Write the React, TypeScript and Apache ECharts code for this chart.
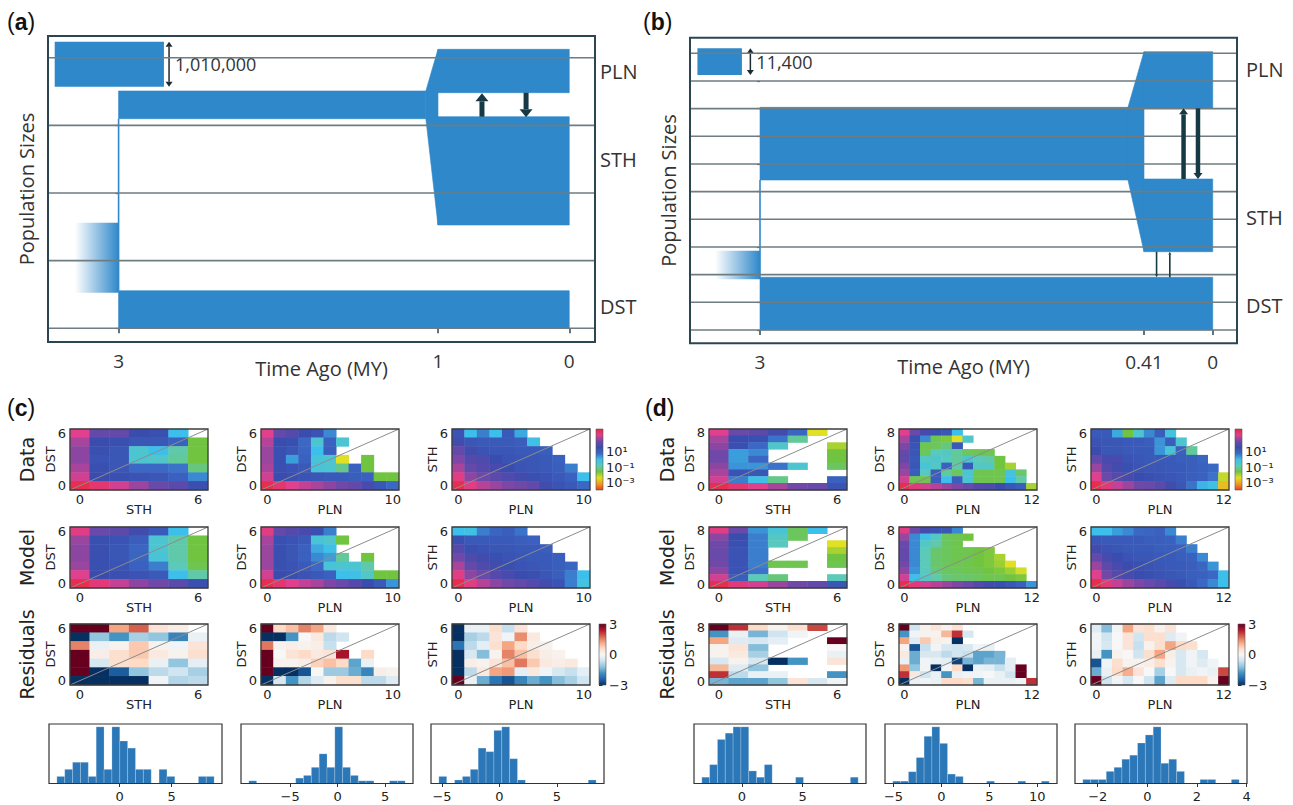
import React, { useEffect, useRef } from 'react';
import * as echarts from 'echarts';

const n = null;

// ================= Panel (a) =================
const timeBreaksA = [[3, 0], [1, 1], [0, 1.411]]; // time (MY) -> axis position (broken time axis)
const timeTicksA = [3, 1, 0];
const timeTickLabelsA = ['3', '1', '0'];
const sizeGridA = [0, 1, 2, 3, 4];
// [tStart, tEnd, bottomStart, topStart, bottomEnd, topEnd]
const blocksA = [
  [3, 1.076, 3.098, 3.508, 3.098, 3.508],
  [1.076, 1, 3.098, 3.508, 1.527, 4.124],
  [1, 0, 3.483, 4.124, 3.483, 4.124],
  [1, 0, 1.527, 3.128, 1.527, 3.128],
  [3, 0, 0, 0.556, 0, 0.556],
];
const founderA = [[3, 0.556, 3.098]];
const fadeA = [[3.273, 3, 0.526, 1.561]];
const migrationA = [[0.665, 3.128, 3.474], [0.329, 3.483, 3.12]];
const scaleA = [[3.4, 2.716, 3.571, 4.237, 2.684]];
const scaleLabelA = '1,010,000';
const popLabelsA: any[] = [['PLN', 3.8], ['STH', 2.49], ['DST', 0.315]];

// ================= Panel (b) =================
const timeBreaksB = [[3, 0], [0.41, 1], [0, 1.179]];
const timeTicksB = [3, 0.41, 0];
const timeTickLabelsB = ['3', '0.41', '0'];
const sizeGridB = [0, 1, 2, 3, 4, 5, 6, 7, 8, 9, 10];
const blocksB = [
  [3, 0.518, 5.421, 8.048, 5.421, 8.048],
  [0.518, 0.41, 5.421, 8.048, 2.83, 10.058],
  [0.41, 0, 8.012, 10.058, 8.012, 10.058],
  [0.41, 0, 2.83, 5.457, 2.83, 5.457],
  [3, 0, 0, 1.905, 0, 1.905],
];
const founderB = [[3, 1.905, 5.421]];
const fadeB = [[3.303, 3, 1.832, 2.866]];
const migrationB = [[0.174, 5.457, 8.012], [0.088, 8.012, 5.457]];
const minorMigrationB = [[0.335, 2.83, 1.905], [0.256, 1.905, 2.83]];
const scaleB = [[3.422, 3.122, 9.216, 10.18, 3.065]];
const scaleLabelB = '11,400';
const popLabelsB: any[] = [['PLN', 9.4], ['STH', 4.05], ['DST', 0.9]];

// ================= Panel (c) spectra (log10), rows listed top (max) -> bottom (0) =================
const cData1 = [
  [3.2, 2.2, 2.2, 1.6, 1.5, 0.0, n],
  [2.8, 1.6, 1.5, 1.3, 1.3, 1.0, -1.6],
  [2.6, 1.5, 1.3, -0.4, 0.0, -0.9, -1.6],
  [2.6, 1.4, 1.3, -0.4, -0.5, -1.0, -1.6],
  [2.8, 1.5, 1.3, 0.8, 0.8, 0.7, -1.2],
  [3.1, 1.6, 1.5, 1.4, 1.3, 1.0, 0.5],
  [3.8, 3.5, 3.1, 2.7, 2.3, 2.1, 1.5],
];
const cModel1 = [
  [3.3, 2.3, 2.1, 1.7, 1.2, 0.0, n],
  [2.7, 1.5, 1.4, 1.1, -0.4, -0.9, -1.6],
  [2.6, 1.5, 1.3, 0.9, -0.4, -0.9, -1.6],
  [2.6, 1.5, 1.3, 0.9, -0.3, -0.9, -1.6],
  [2.7, 1.5, 1.4, 1.0, 0.6, -0.8, -1.5],
  [3.2, 1.6, 1.5, 1.4, 1.2, 0.0, -0.9],
  [3.8, 3.4, 3.0, 2.6, 2.4, 2.1, 1.5],
];
const cRes1 = [
  [3, 3, 1.2, 1.8, 0.4, 0.2, n],
  [-3, -1.2, -1.8, -1.0, -1.2, -2.0, -0.2],
  [1.5, -0.2, 0.1, 0.8, 0.1, -0.1, 0.4],
  [3, 0.2, 0.5, 0.8, 0.3, 0.1, 0.5],
  [3, -0.5, 0.5, 0.6, -0.2, -1.2, -0.3],
  [3, -3, -2.5, -1.2, -0.8, -0.6, -1.0],
  [-3, -3, -3, -3, -0.1, -0.9, -0.8],
];
const cData2 = [
  [3.2, 2.2, 2.0, 1.6, 1.4, 0.5, n, n, n, n, n],
  [2.9, 1.6, 1.5, 0.8, -0.4, 1.0, -0.4, n, n, n, n],
  [2.7, 1.5, 1.3, 0.9, 0.0, 1.1, n, n, n, n, n],
  [2.7, 1.5, 0.3, 1.0, -0.3, -0.4, -2.4, n, -1.6, n, n],
  [2.8, 1.5, 1.4, 1.2, -0.3, -0.4, -1.1, 1.0, -1.6, n, n],
  [3.1, 1.6, 1.5, 1.4, 1.3, 1.2, 1.2, 1.1, 1.0, -1.6, -1.6],
  [3.8, 3.5, 3.2, 3.0, 2.8, 2.6, 2.4, 2.2, 1.8, 1.3, 0.8],
];
const cModel2 = [
  [3.3, 2.2, 2.0, 1.8, 1.5, 0.6, n, n, n, n, n],
  [2.8, 1.5, 1.4, 1.2, -0.3, -0.5, -1.6, n, n, n, n],
  [2.7, 1.5, 1.3, 1.0, 0.2, -0.1, n, n, n, n, n],
  [2.7, 1.5, 1.3, 1.0, 0.5, 0.3, -1.0, n, -1.6, n, n],
  [2.7, 1.5, 1.4, 1.2, 0.8, -0.3, -0.4, -0.4, -0.9, n, n],
  [3.1, 1.6, 1.5, 1.4, 1.2, 1.0, 0.0, -0.1, -0.6, -1.6, -1.6],
  [3.8, 3.5, 3.2, 3.0, 2.8, 2.5, 2.3, 2.0, 1.6, 1.2, 0.4],
];
const cRes2 = [
  [3, 0.6, 0.9, 1.5, 1.2, 0.3, n, n, n, n, n],
  [-3, -3, -1.8, 0.0, 0.3, -0.8, -0.6, n, n, n, n],
  [1.6, 0.1, 0.2, 0.1, 0.2, -0.7, n, n, n, n, n],
  [3, 0.0, 0.4, 0.6, 0.3, 0.4, 2.5, n, 0.6, n, n],
  [3, 0.1, 0.1, 0.2, 0.7, 0.9, 0.6, -1.6, -0.2, n, n],
  [3, -3, -3, -2.6, 0.0, -1.1, -1.1, -1.5, -2.0, 0.2, 0.1],
  [-3, -0.5, -1.8, -0.9, -0.4, 0.1, 0.5, 0.5, -0.8, -0.8, -0.4],
];
const cData3 = [
  [1.4, 0.0, 0.6, 0.0, 1.2, 0.2, n, n, n, n, n],
  [1.7, 1.3, 1.2, 1.2, 1.2, 1.1, -0.1, n, n, n, n],
  [2.2, 1.7, 1.4, 1.3, 1.3, 1.2, 1.2, 1.1, n, n, n],
  [2.5, 2.0, 1.9, 1.6, 1.4, 1.3, 1.3, 1.2, 1.0, n, n],
  [2.8, 2.2, 2.0, 1.8, 1.6, 1.4, 1.3, 1.2, 1.1, 0.6, n],
  [3.3, 2.6, 2.3, 2.1, 1.9, 1.7, 1.5, 1.4, 1.2, 1.0, 0.0],
  [3.8, 3.3, 2.9, 2.7, 2.5, 2.4, 2.2, 1.7, 1.4, 1.2, 0.8],
];
const cModel3 = [
  [0.0, -0.1, 0.6, 0.9, 1.1, 0.7, n, n, n, n, n],
  [1.5, 1.2, 1.2, 1.2, 1.2, 1.1, 1.0, n, n, n, n],
  [2.0, 1.5, 1.4, 1.3, 1.3, 1.2, 1.2, 1.1, n, n, n],
  [2.4, 1.9, 1.7, 1.5, 1.4, 1.3, 1.2, 1.2, 1.1, n, n],
  [2.8, 2.2, 1.9, 1.7, 1.5, 1.4, 1.3, 1.2, 1.1, 0.9, n],
  [3.3, 2.6, 2.3, 2.0, 1.8, 1.6, 1.5, 1.3, 1.1, 0.6, 0.0],
  [3.8, 3.3, 2.9, 2.6, 2.4, 2.2, 2.0, 1.7, 1.4, 0.6, -0.2],
];
const cRes3 = [
  [-3, -0.2, -0.2, 0.5, -0.7, 0.4, n, n, n, n, n],
  [-3, -1.0, -0.8, 0.4, -0.1, 1.4, 0.3, n, n, n, n],
  [-2.2, -0.8, -0.3, 0.5, 1.2, 0.6, 0.2, 0.1, n, n, n],
  [-3, -0.5, -1.3, 0.1, 1.5, 0.9, 0.5, 0.2, 0.1, n, n],
  [-3, 0.2, 0.1, 0.4, 0.9, 1.6, 0.8, 0.3, 0.2, 0.3, n],
  [-3, -0.8, 0.3, 1.2, 1.3, -0.3, 0.3, -0.1, -0.5, -0.7, -0.3],
  [3, -0.2, -1.5, -2.2, -2.6, -2.0, -1.5, -1.8, -1.3, -1.0, -0.6],
];

// ================= Panel (d) =================
const dData1 = [
  [3.2, 2.3, 2.1, 1.7, 0.9, -2.4, n],
  [2.8, 1.6, 1.5, 0.7, -1.0, n, n],
  [2.6, 1.5, 0.8, -0.5, n, n, -2.0],
  [2.4, 0.3, 0.5, n, n, n, -1.6],
  [2.4, 0.3, 0.9, n, n, n, -1.6],
  [2.6, 0.4, 0.4, 0.7, -0.4, n, -1.4],
  [2.8, 1.4, 1.3, n, n, n, n],
  [3.1, 0.6, -0.1, -1.1, n, n, 1.0],
  [3.8, 3.5, 3.2, 2.8, 2.4, 2.3, 1.4],
];
const dModel1 = [
  [3.3, 2.3, 0.4, -0.3, -1.4, 0.0, n],
  [2.6, 1.6, 0.6, -0.6, -1.4, n, n],
  [2.4, 1.5, 0.6, -0.7, n, n, -2.4],
  [2.3, 1.4, 0.6, n, n, n, -2.0],
  [2.3, 1.4, 0.6, n, n, n, -1.6],
  [2.4, 1.4, 0.6, -1.5, -1.5, n, -1.5],
  [2.6, 1.4, 0.7, n, n, n, n],
  [3.1, 1.1, -0.8, -1.2, n, n, -0.8],
  [3.8, 3.4, 3.1, 2.7, 2.4, 2.2, 1.3],
];
const dRes1 = [
  [3, 2.2, 0.6, 0.1, 0.5, 2.0, n],
  [-1.8, -0.2, -1.4, -0.6, -0.1, n, n],
  [1.2, -0.4, -0.5, -0.3, n, n, 3],
  [0.1, 0.4, -1.3, n, n, n, 0.0],
  [0.1, 0.3, -1.0, n, n, n, -0.2],
  [-0.5, 0.1, -0.5, -3, -1.8, n, 0.4],
  [1.0, -0.4, -1.2, n, n, n, n],
  [2.2, -0.8, -0.2, -0.2, n, n, -1.8],
  [-1.4, -1.6, -1.6, -1.2, 0.4, -0.5, -0.1],
];
const dData2 = [
  [3.2, 2.3, 1.8, 1.5, 1.3, 0.0, n, n, n, n, n, n, n],
  [2.8, 1.5, 0.5, -1.5, -1.7, -2.4, -0.5, n, n, n, n, n, n],
  [2.5, 1.4, -1.5, -1.4, -1.2, 1.2, n, n, n, n, n, n, n],
  [2.2, 1.3, -1.4, -0.7, -0.6, -1.0, -1.4, -1.5, -1.5, n, n, n, n],
  [2.2, 1.2, -0.6, -0.5, -0.7, -1.0, -0.4, -0.8, -0.9, -1.6, n, n, n],
  [2.5, 1.3, -0.3, -0.6, 1.0, -0.9, 1.2, -0.6, -0.6, -1.6, -2.0, n, n],
  [2.7, 1.1, -0.7, 1.1, -1.0, -1.4, -0.4, -1.5, -1.5, -1.5, -0.2, -1.3, n],
  [3.1, -1.5, -1.5, 1.1, 0.0, 1.1, -0.4, -1.5, -1.5, -1.5, 0.0, -0.9, n],
  [3.8, 3.4, 3.1, 2.9, 2.7, 2.5, 2.3, 2.0, 1.9, 1.6, 1.3, 1.1, -2.0],
];
const dModel2 = [
  [3.3, 2.3, 1.8, 1.4, 1.3, 0.5, n, n, n, n, n, n, n],
  [2.7, 0.5, -0.1, -0.6, -1.4, -1.5, -1.6, n, n, n, n, n, n],
  [2.3, 0.5, -0.6, -0.9, -1.4, -1.5, n, n, n, n, n, n, n],
  [2.2, 0.5, -0.8, -1.3, -1.4, -1.5, -1.5, -1.6, -1.7, n, n, n, n],
  [2.2, 0.5, -0.8, -1.3, -1.4, -1.5, -1.5, -1.6, -1.7, -2.0, n, n, n],
  [2.4, 0.5, -0.8, -1.3, -1.4, -1.5, -1.5, -1.6, -1.7, -1.9, -2.4, n, n],
  [2.6, 0.4, -0.7, -1.2, -1.4, -1.4, -1.5, -1.5, -1.6, -1.7, -1.9, -2.3, n],
  [3.1, 0.0, -0.6, -0.9, -1.2, -1.3, -1.3, -1.4, -1.5, -1.5, -1.6, -1.7, n],
  [3.8, 3.4, 3.1, 2.9, 2.7, 2.5, 2.3, 2.0, 1.7, 1.5, 1.3, 1.0, 0.4],
];
const dRes2 = [
  [3, -0.6, 0.1, 0.4, 0.1, 0.4, n, n, n, n, n, n, n],
  [-1.8, -0.1, 0.1, 0.1, 1.0, 2.2, -0.5, n, n, n, n, n, n],
  [1.2, -0.4, 0.8, 0.2, 0.1, -3, n, n, n, n, n, n, n],
  [0.1, -2.6, -0.7, -0.1, -0.5, -0.6, -0.5, -0.1, -0.2, n, n, n, n],
  [0.3, -1.5, -0.5, -0.5, -0.8, -0.6, -0.7, -1.6, -1.6, -1.4, n, n, n],
  [-0.2, -1.5, -0.1, -0.2, -0.3, -2.8, -1.4, -1.6, -1.4, -1.4, -0.3, n, n],
  [1.3, -1.2, -0.1, -3, -0.1, 0.6, -3, -0.2, -0.3, -0.7, -0.3, 3, n],
  [2.2, 0.3, -0.6, -0.2, -1.8, -0.2, -0.1, -0.1, 0.0, -0.2, -0.6, 3, n],
  [-3, -0.2, -0.1, -0.2, 0.6, 0.6, 0.5, -1.4, -0.2, -0.2, -0.2, -0.1, 2.2],
];
const dData3 = [
  [1.2, 1.2, 0.2, -1.6, -0.4, 0.5, 1.1, -0.2, n, n, n, n, n],
  [1.4, 1.3, 1.3, 1.2, 1.2, 1.1, 0.4, 1.1, -0.4, n, n, n, n],
  [1.6, 1.3, 1.3, 1.2, 1.2, 1.2, 0.4, -0.3, 1.0, -1.0, n, n, n],
  [2.2, 1.8, 1.8, 1.4, 1.3, 1.2, 1.2, 1.2, 1.1, 1.1, 0.9, n, n],
  [2.7, 2.0, 1.7, 1.5, 1.4, 1.3, 1.3, 1.2, 1.2, 1.1, 1.0, 0.8, n],
  [3.2, 2.3, 2.0, 1.8, 1.6, 1.5, 1.4, 1.3, 1.2, 1.1, 1.0, 0.7, -2.2],
  [3.8, 3.4, 3.0, 2.7, 2.4, 2.3, 2.1, 1.7, 1.3, 0.7, 0.1, -0.1, -2.8],
];
const dModel3 = [
  [0.0, 0.0, 0.3, 0.5, 0.8, 0.9, 1.0, 0.5, n, n, n, n, n],
  [1.3, 1.2, 1.2, 1.2, 1.2, 1.1, 1.1, 1.0, 0.6, n, n, n, n],
  [1.7, 1.4, 1.3, 1.2, 1.2, 1.2, 1.1, 1.1, 1.0, 0.6, n, n, n],
  [2.2, 1.8, 1.6, 1.4, 1.3, 1.3, 1.2, 1.2, 1.1, 1.0, 0.5, n, n],
  [2.7, 2.1, 1.8, 1.6, 1.5, 1.4, 1.3, 1.2, 1.2, 1.1, 0.9, 0.4, n],
  [3.2, 2.4, 2.0, 1.8, 1.6, 1.5, 1.4, 1.3, 1.2, 1.1, 1.0, 0.8, 0.0],
  [3.8, 3.4, 3.0, 2.7, 2.5, 2.3, 2.1, 1.8, 1.5, 1.2, 0.8, 0.5, 0.0],
];
const dRes3 = [
  [-0.4, -1.3, -0.1, 1.2, 0.4, 0.5, 0.1, 0.4, n, n, n, n, n],
  [-0.1, -0.6, 0.0, 0.4, -0.6, 0.5, 0.5, -0.4, -0.1, n, n, n, n],
  [-0.1, -0.5, 0.0, 0.4, -0.7, 0.1, 0.5, 1.2, 0.6, 0.5, n, n, n],
  [-0.2, -1.8, 0.1, 0.0, -0.6, 0.5, 1.2, 0.2, -0.5, -0.1, -0.5, n, n],
  [-2.6, -0.1, 0.5, 0.1, 0.1, 0.2, 0.5, 0.1, -0.5, -0.1, -0.4, -0.1, n],
  [-1.5, -0.2, 0.6, 1.1, 0.4, 0.0, -1.0, 0.0, -0.5, -0.2, -0.1, -0.2, 2.0],
  [3, -0.6, -0.1, -0.5, 0.0, -0.6, -1.6, -0.4, 0.6, 0.6, 0.6, 0.1, 3],
];

// ================= Residual histograms (20 bins over [lo, hi]) =================
const histC1Counts = [1, 2, 3, 3, 1, 8, 2, 8, 6, 5, 2, 2, 0, 2, 1, 0, 0, 0, 1, 1];
const histC1Range = [-6.05, 9.09];
const histC1Ticks = [0, 5];
const histC2Counts = [1, 0, 0, 0, 0, 0, 2, 3, 6, 11, 6, 21, 6, 3, 1, 1, 0, 0, 1, 1];
const histC2Range = [-9.34, 7.11];
const histC2Ticks = [-5, 0, 5];
const histC3Counts = [2, 0, 1, 2, 4, 10, 9, 15, 16, 7, 1, 0, 0, 0, 0, 0, 0, 0, 0, 1];
const histC3Range = [-5.27, 8.42];
const histC3Ticks = [-5, 0, 5];
const histD1Counts = [1, 3, 7, 8, 9, 9, 2, 1, 3, 0, 0, 0, 1, 0, 0, 0, 0, 0, 0, 1];
const histD1Range = [-3.31, 9.58];
const histD1Ticks = [0, 5];
const histD2Counts = [1, 1, 5, 11, 20, 24, 17, 4, 3, 0, 0, 0, 1, 0, 0, 0, 1, 0, 0, 1];
const histD2Range = [-5.07, 11.24];
const histD2Ticks = [-5, 0, 5, 10];
const histD3Counts = [1, 1, 1, 3, 4, 6, 7, 10, 12, 14, 5, 6, 3, 0, 0, 1, 1, 0, 0, 1];
const histD3Range = [-2.6, 3.7];
const histD3Ticks = [-2, 0, 2, 4];

// colour bar ticks
const sfsTicks = [1, -1, -3];
const resTicks = [3, 0, -3];
const diagonal = [[0, 0], [1, 1]];

// ---------- styles ----------
const BLUE = '#2f88c9';
const FRAME = '#2b4651';
const ARROW = '#163a45';
const GRIDLINE = '#6e7d82';
const FONT_SANS = "'DejaVu Sans', sans-serif";
const FONT_DEMO = "'Open Sans', sans-serif";
const SFS_COLORS = ['#e8401e', '#f09a20', '#e0e024', '#70c440', '#5ccab8', '#3cbfea', '#3a68c4', '#3a4cae', '#7048a8', '#e0408e', '#e8283a'];
const RES_COLORS = ['#053061', '#2166ac', '#4393c3', '#92c5de', '#d1e5f0', '#f7f7f7', '#fddbc7', '#f4a582', '#d6604d', '#b2182b', '#67001f'];

function timeToPos(breaks: number[][], t: number): number {
  const last = breaks.length - 2;
  for (let i = 0; i <= last; i++) {
    const [t0, p0] = breaks[i];
    const [t1, p1] = breaks[i + 1];
    if (t >= t1 || i === last) return p0 + ((t - t0) * (p1 - p0)) / (t1 - t0);
  }
  return 0;
}

function minusFmt(v: number) {
  return v < 0 ? '\u2212' + Math.abs(v) : String(v);
}

function buildOption() {
  const grid: any[] = [];
  const xAxis: any[] = [];
  const yAxis: any[] = [];
  const series: any[] = [];
  const sfsSeries: number[] = [];
  const resSeries: number[] = [];

  // ---------- demography panels ----------
  const addDemo = (cfg: any) => {
    const gi = grid.length;
    grid.push({ left: cfg.left, top: cfg.top, width: cfg.width, height: cfg.height, show: true, borderColor: FRAME, borderWidth: 2, backgroundColor: 'transparent', z: 10 });
    const P = (t: number) => timeToPos(cfg.breaks, t);
    const tickPos = cfg.ticks.map(P);
    const xi = xAxis.length;
    const yi = yAxis.length;
    xAxis.push({
      type: 'value', gridIndex: gi, min: cfg.xRange[0], max: cfg.xRange[1],
      axisLine: { show: false }, splitLine: { show: false },
      axisTick: { show: true, customValues: tickPos, length: 5, lineStyle: { color: FRAME, width: 1.5 } },
      axisLabel: {
        show: true, customValues: tickPos, margin: 9, fontSize: 19, color: '#333', fontFamily: FONT_DEMO,
        formatter: (v: number) => {
          let best = 0;
          tickPos.forEach((p: number, i: number) => { if (Math.abs(p - v) < Math.abs(tickPos[best] - v)) best = i; });
          return cfg.tickLabels[best];
        },
      },
      name: 'Time Ago (MY)', nameLocation: 'middle', nameGap: cfg.nameGap, nameMoveOverlap: false,
      nameTextStyle: { fontSize: 20, color: '#333', fontFamily: FONT_DEMO },
    });
    yAxis.push({
      type: 'value', gridIndex: gi, min: cfg.yRange[0], max: cfg.yRange[1],
      axisLine: { show: false }, splitLine: { show: false }, axisLabel: { show: false },
      axisTick: { show: true, customValues: cfg.sizeGrid, length: 3, lineStyle: { color: '#555', width: 1.2 } },
      name: 'Population Sizes', nameLocation: 'middle', nameGap: 12, nameRotate: 90, nameMoveOverlap: false,
      nameTextStyle: { fontSize: 20, color: '#333', fontFamily: FONT_DEMO },
    });
    const common = { type: 'custom', xAxisIndex: xi, yAxisIndex: yi, silent: true, clip: false };

    series.push({
      ...common, z: 2,
      data: cfg.blocks.map((b: number[]) => [P(b[0]), P(b[1]), b[2], b[3], b[4], b[5]]),
      renderItem: (params: any, api: any) => {
        const x0 = api.value(0), x1 = api.value(1);
        const pts = [api.coord([x0, api.value(2)]), api.coord([x0, api.value(3)]), api.coord([x1, api.value(5)]), api.coord([x1, api.value(4)])];
        return { type: 'polygon', shape: { points: pts }, style: { fill: BLUE, stroke: BLUE, lineWidth: 0.6 } };
      },
    });
    series.push({
      ...common, z: 2,
      data: cfg.founder.map((f: number[]) => [P(f[0]), f[1], f[2]]),
      renderItem: (params: any, api: any) => {
        const a = api.coord([api.value(0), api.value(1)]);
        const b = api.coord([api.value(0), api.value(2)]);
        return { type: 'line', shape: { x1: a[0], y1: a[1], x2: b[0], y2: b[1] }, style: { stroke: BLUE, lineWidth: 1.6 } };
      },
    });
    series.push({
      ...common, z: 2,
      data: cfg.fade.map((f: number[]) => [P(f[0]), P(f[1]), f[2], f[3]]),
      renderItem: (params: any, api: any) => {
        const a = api.coord([api.value(0), api.value(3)]);
        const b = api.coord([api.value(1), api.value(2)]);
        return {
          type: 'rect', shape: { x: a[0], y: a[1], width: b[0] - a[0], height: b[1] - a[1] },
          style: { fill: new echarts.graphic.LinearGradient(0, 0, 1, 0, [{ offset: 0, color: 'rgba(47,136,201,0)' }, { offset: 1, color: 'rgba(47,136,201,1)' }]) },
        };
      },
    });
    series.push({
      ...common, z: 3,
      data: cfg.sizeGrid.map((v: number) => [0, v]),
      renderItem: (params: any, api: any) => {
        const cs = params.coordSys;
        const y = api.coord([0, api.value(1)])[1];
        return { type: 'line', shape: { x1: cs.x, y1: y, x2: cs.x + cs.width, y2: y }, style: { stroke: GRIDLINE, lineWidth: 1.6 } };
      },
    });
    const arrowSeries = (data: number[][], shaft: number, headW: number, headLen: number) => ({
      ...common, z: 4,
      data: data.map((m) => [P(m[0]), m[1], m[2]]),
      renderItem: (params: any, api: any) => {
        const p0 = api.coord([api.value(0), api.value(1)]);
        const p1 = api.coord([api.value(0), api.value(2)]);
        const dir = p1[1] < p0[1] ? -1 : 1;
        const yb = p1[1] - dir * headLen;
        return {
          type: 'group', children: [
            { type: 'line', shape: { x1: p0[0], y1: p0[1], x2: p0[0], y2: yb }, style: { stroke: ARROW, lineWidth: shaft } },
            { type: 'polygon', shape: { points: [[p0[0] - headW / 2, yb], [p0[0] + headW / 2, yb], [p0[0], p1[1]]] }, style: { fill: ARROW } },
          ],
        };
      },
    });
    series.push(arrowSeries(cfg.migration, cfg.arrow[0], cfg.arrow[1], cfg.arrow[2]));
    if (cfg.minorMigration) series.push(arrowSeries(cfg.minorMigration, 1.6, 3, 3));
    series.push({
      ...common, z: 2,
      data: cfg.scale.map((s: number[]) => [P(s[0]), P(s[1]), s[2], s[3], P(s[4])]),
      renderItem: (params: any, api: any) => {
        const a = api.coord([api.value(0), api.value(3)]);
        const b = api.coord([api.value(1), api.value(2)]);
        const ax = api.coord([api.value(4), 0])[0];
        const hw = 3.5, hl = 5;
        return {
          type: 'group', children: [
            { type: 'rect', shape: { x: a[0], y: a[1], width: b[0] - a[0], height: b[1] - a[1] }, style: { fill: BLUE } },
            { type: 'line', shape: { x1: ax, y1: a[1] + hl, x2: ax, y2: b[1] - hl }, style: { stroke: '#1d2b30', lineWidth: 1.5 } },
            { type: 'polygon', shape: { points: [[ax - hw, a[1] + hl], [ax + hw, a[1] + hl], [ax, a[1]]] }, style: { fill: '#1d2b30' } },
            { type: 'polygon', shape: { points: [[ax - hw, b[1] - hl], [ax + hw, b[1] - hl], [ax, b[1]]] }, style: { fill: '#1d2b30' } },
            {
              type: 'text', x: ax + 6, y: (a[1] + b[1]) / 2,
              style: { text: cfg.scaleLabel, fontSize: 18, fontFamily: FONT_DEMO, fill: '#333', textAlign: 'left', align: 'left', verticalAlign: 'middle', textVerticalAlign: 'middle' },
            },
          ],
        };
      },
    });
    series.push({
      ...common, z: 4,
      data: cfg.popLabels.map((l: any[]) => [0, l[1]]),
      renderItem: (params: any, api: any) => {
        const cs = params.coordSys;
        const y = api.coord([0, api.value(1)])[1];
        return {
          type: 'text', x: cs.x + cs.width + cfg.labelGap, y,
          style: { text: cfg.popLabels[params.dataIndex][0], fontSize: 20, fontFamily: FONT_DEMO, fill: '#333', textAlign: 'left', align: 'left', verticalAlign: 'middle', textVerticalAlign: 'middle' },
        };
      },
    });
  };

  addDemo({
    left: 48, top: 36, width: 547, height: 306, xRange: [-0.221, 1.4916], yRange: [-0.2025, 4.321],
    breaks: timeBreaksA, ticks: timeTicksA, tickLabels: timeTickLabelsA, sizeGrid: sizeGridA,
    blocks: blocksA, founder: founderA, fade: fadeA, migration: migrationA, arrow: [5, 13, 8],
    scale: scaleA, scaleLabel: scaleLabelA, popLabels: popLabelsA, labelGap: 5, nameGap: 16,
  });
  addDemo({
    left: 690, top: 37.7, width: 547, height: 305.6, xRange: [-0.1823, 1.2422], yRange: [-0.481, 10.564],
    breaks: timeBreaksB, ticks: timeTicksB, tickLabels: timeTickLabelsB, sizeGrid: sizeGridB,
    blocks: blocksB, founder: founderB, fade: fadeB, migration: migrationB, minorMigration: minorMigrationB, arrow: [4.5, 9, 6],
    scale: scaleB, scaleLabel: scaleLabelB, popLabels: popLabelsB, labelGap: 9, nameGap: 13,
  });

  // ---------- heatmaps ----------
  const HM_W = 138, HM_H = 61;
  const labelStyle = { fontSize: 13, color: '#222', fontFamily: FONT_SANS };
  const addHeatmap = (left: number, top: number, rows: any[][], xName: string, yName: string, kind: string) => {
    const gi = grid.length;
    grid.push({ left, top, width: HM_W, height: HM_H, show: true, borderColor: '#3c3c3c', borderWidth: 1.3, backgroundColor: 'transparent', z: 10 });
    const nR = rows.length, nC = rows[0].length;
    const xCats = Array.from({ length: nC }, (_, i) => String(i));
    const yCats = Array.from({ length: nR }, (_, i) => String(i));
    const xi = xAxis.length, yi = yAxis.length;
    xAxis.push({
      type: 'category', gridIndex: gi, data: xCats, axisLine: { show: false }, axisTick: { show: false }, splitLine: { show: false },
      axisLabel: { ...labelStyle, margin: 3, interval: (i: number) => i === 0 || i === nC - 1 },
      name: xName, nameLocation: 'middle', nameGap: 13, nameMoveOverlap: false, nameTextStyle: labelStyle,
    });
    xAxis.push({ type: 'value', gridIndex: gi, min: 0, max: 1, show: false });
    yAxis.push({
      type: 'category', gridIndex: gi, data: yCats, axisLine: { show: false }, axisTick: { show: false }, splitLine: { show: false },
      axisLabel: { ...labelStyle, margin: 4, interval: (i: number) => i === 0 || i === nR - 1 },
      name: yName, nameLocation: 'middle', nameGap: 13, nameRotate: 90, nameMoveOverlap: false, nameTextStyle: labelStyle,
    });
    yAxis.push({ type: 'value', gridIndex: gi, min: 0, max: 1, show: false });
    const data: any[] = [];
    rows.forEach((row, i) => row.forEach((v, j) => { if (v !== null) data.push([j, nR - 1 - i, v]); }));
    series.push({ type: 'heatmap', xAxisIndex: xi, yAxisIndex: yi, data, itemStyle: { borderWidth: 0 }, emphasis: { disabled: true }, silent: true, z: 2 });
    (kind === 'res' ? resSeries : sfsSeries).push(series.length - 1);
    series.push({ type: 'line', xAxisIndex: xi + 1, yAxisIndex: yi + 1, data: diagonal, symbol: 'none', silent: true, lineStyle: { color: '#8c8c8c', width: 1 }, z: 5 });
  };

  const rowTops = [429, 527, 624];
  const cLefts = [70, 261, 452];
  const dLefts = [709, 899, 1091];
  const cSets = [[cData1, cModel1, cRes1, 'STH', 'DST'], [cData2, cModel2, cRes2, 'PLN', 'DST'], [cData3, cModel3, cRes3, 'PLN', 'STH']];
  const dSets = [[dData1, dModel1, dRes1, 'STH', 'DST'], [dData2, dModel2, dRes2, 'PLN', 'DST'], [dData3, dModel3, dRes3, 'PLN', 'STH']];
  cSets.forEach((s: any, k) => {
    addHeatmap(cLefts[k], rowTops[0], s[0], s[3], s[4], 'sfs');
    addHeatmap(cLefts[k], rowTops[1], s[1], s[3], s[4], 'sfs');
    addHeatmap(cLefts[k], rowTops[2], s[2], s[3], s[4], 'res');
  });
  dSets.forEach((s: any, k) => {
    addHeatmap(dLefts[k], rowTops[0], s[0], s[3], s[4], 'sfs');
    addHeatmap(dLefts[k], rowTops[1], s[1], s[3], s[4], 'sfs');
    addHeatmap(dLefts[k], rowTops[2], s[2], s[3], s[4], 'res');
  });

  // ---------- colour bars ----------
  const addColorbar = (left: number, top: number, min: number, max: number, colors: string[], ticks: number[], fmt: any) => {
    const gi = grid.length;
    grid.push({ left, top, width: 7, height: HM_H, show: true, borderColor: '#555', borderWidth: 0.6, backgroundColor: 'transparent', z: 10 });
    const xi = xAxis.length, yi = yAxis.length;
    xAxis.push({ type: 'value', gridIndex: gi, min: 0, max: 1, show: false });
    yAxis.push({
      type: 'value', gridIndex: gi, min, max, position: 'right', axisLine: { show: false }, splitLine: { show: false },
      axisTick: { show: true, customValues: ticks, length: 3.5, lineStyle: { color: '#222' } },
      axisLabel: { show: true, customValues: ticks, formatter: fmt, ...labelStyle, margin: 3 },
    });
    series.push({
      type: 'custom', xAxisIndex: xi, yAxisIndex: yi, silent: true, data: [[0, 1, min, max]],
      renderItem: (params: any, api: any) => {
        const a = api.coord([api.value(0), api.value(2)]);
        const b = api.coord([api.value(1), api.value(3)]);
        return {
          type: 'rect', shape: { x: a[0], y: b[1], width: b[0] - a[0], height: a[1] - b[1] },
          style: { fill: new echarts.graphic.LinearGradient(0, 1, 0, 0, colors.map((c, i) => ({ offset: i / (colors.length - 1), color: c }))) },
        };
      },
    });
  };
  const sup: any = { '1': '10\u00b9', '-1': '10\u207b\u00b9', '-3': '10\u207b\u00b3' };
  const sfsFmt = (v: number) => sup[String(Math.round(v))] || '';
  const resFmt = (v: number) => minusFmt(Math.round(v));
  addColorbar(596, rowTops[0], -4, 4, SFS_COLORS, sfsTicks, sfsFmt);
  addColorbar(599, rowTops[2], -3, 3, RES_COLORS, resTicks, resFmt);
  addColorbar(1235, rowTops[0], -4, 4, SFS_COLORS, sfsTicks, sfsFmt);
  addColorbar(1238, rowTops[2], -3, 3, RES_COLORS, resTicks, resFmt);

  // ---------- histograms ----------
  const addHist = (left: number, width: number, counts: number[], range: number[], ticks: number[]) => {
    const [lo, hi] = range;
    const w = (hi - lo) / counts.length;
    const pad = 0.05 * (hi - lo);
    const gi = grid.length;
    grid.push({ left, top: 724, width, height: 59.5, show: true, borderColor: '#333', borderWidth: 1.2, backgroundColor: 'transparent', z: 10 });
    const xi = xAxis.length, yi = yAxis.length;
    xAxis.push({
      type: 'value', gridIndex: gi, min: lo - pad, max: hi + pad, axisLine: { show: false }, splitLine: { show: false },
      axisTick: { show: true, customValues: ticks, length: 3.5, lineStyle: { color: '#333' } },
      axisLabel: { show: true, customValues: ticks, formatter: minusFmt, ...labelStyle, margin: 6 },
    });
    yAxis.push({ type: 'value', gridIndex: gi, min: 0, max: Math.max(...counts) * 1.05, show: false });
    series.push({
      type: 'custom', xAxisIndex: xi, yAxisIndex: yi, silent: true,
      data: counts.map((c, k) => [lo + k * w, lo + (k + 1) * w, c]),
      renderItem: (params: any, api: any) => {
        if (!api.value(2)) return null;
        const a = api.coord([api.value(0), api.value(2)]);
        const b = api.coord([api.value(1), 0]);
        return { type: 'rect', shape: { x: a[0], y: a[1], width: b[0] - a[0], height: b[1] - a[1] }, style: { fill: '#2b77b7', stroke: 'rgba(255,255,255,0.35)', lineWidth: 0.6 } };
      },
    });
  };
  addHist(49, 173, histC1Counts, histC1Range, histC1Ticks);
  addHist(241, 172, histC2Counts, histC2Range, histC2Ticks);
  addHist(431, 173, histC3Counts, histC3Range, histC3Ticks);
  addHist(694, 172, histD1Counts, histD1Range, histD1Ticks);
  addHist(885, 172, histD2Counts, histD2Range, histD2Ticks);
  addHist(1075, 172, histD3Counts, histD3Range, histD3Ticks);

  // ---------- texts ----------
  const panelLabel = (x: number, y: number, letter: string) => ({
    type: 'text', x, y,
    style: {
      text: '{p|(}{b|' + letter + '}{p|)}', align: 'left', textAlign: 'left', verticalAlign: 'middle', textVerticalAlign: 'middle',
      rich: {
        p: { fontSize: 23, fontFamily: "'Liberation Sans', Arial, sans-serif", fill: '#111', color: '#111' },
        b: { fontSize: 23, fontWeight: 'bold', fontFamily: "'Liberation Sans', Arial, sans-serif", fill: '#111', color: '#111' },
      },
    },
  });
  const rowLabel = (x: number, y: number, text: string) => ({
    type: 'text', x, y, rotation: Math.PI / 2,
    style: { text, fontSize: 19, fontFamily: FONT_SANS, fill: '#222', align: 'center', textAlign: 'center', verticalAlign: 'middle', textVerticalAlign: 'middle' },
  });
  const graphic: any[] = [
    panelLabel(7, 22, 'a'), panelLabel(643, 22, 'b'), panelLabel(7, 408, 'c'), panelLabel(645, 408, 'd'),
  ];
  const rowNames = ['Data', 'Model', 'Residuals'];
  rowNames.forEach((t, i) => {
    graphic.push(rowLabel(27, rowTops[i] + HM_H / 2, t));
    graphic.push(rowLabel(667, rowTops[i] + HM_H / 2, t));
  });

  return {
    animation: false,
    backgroundColor: '#ffffff',
    grid, xAxis, yAxis, series, graphic,
    visualMap: [
      { type: 'continuous', show: false, min: -4, max: 4, dimension: 2, seriesIndex: sfsSeries, inRange: { color: SFS_COLORS } },
      { type: 'continuous', show: false, min: -3, max: 3, dimension: 2, seriesIndex: resSeries, inRange: { color: RES_COLORS } },
    ],
  };
}

export default function App() {
  const ref = useRef<HTMLDivElement>(null);
  useEffect(() => {
    document.body.style.margin = '0';
    const chart = echarts.init(ref.current as HTMLDivElement, null, { renderer: 'svg' });
    chart.setOption(buildOption() as any);
    return () => chart.dispose();
  }, []);
  return <div ref={ref} style={{ width: 1293, height: 805, background: '#fff' }} />;
}
